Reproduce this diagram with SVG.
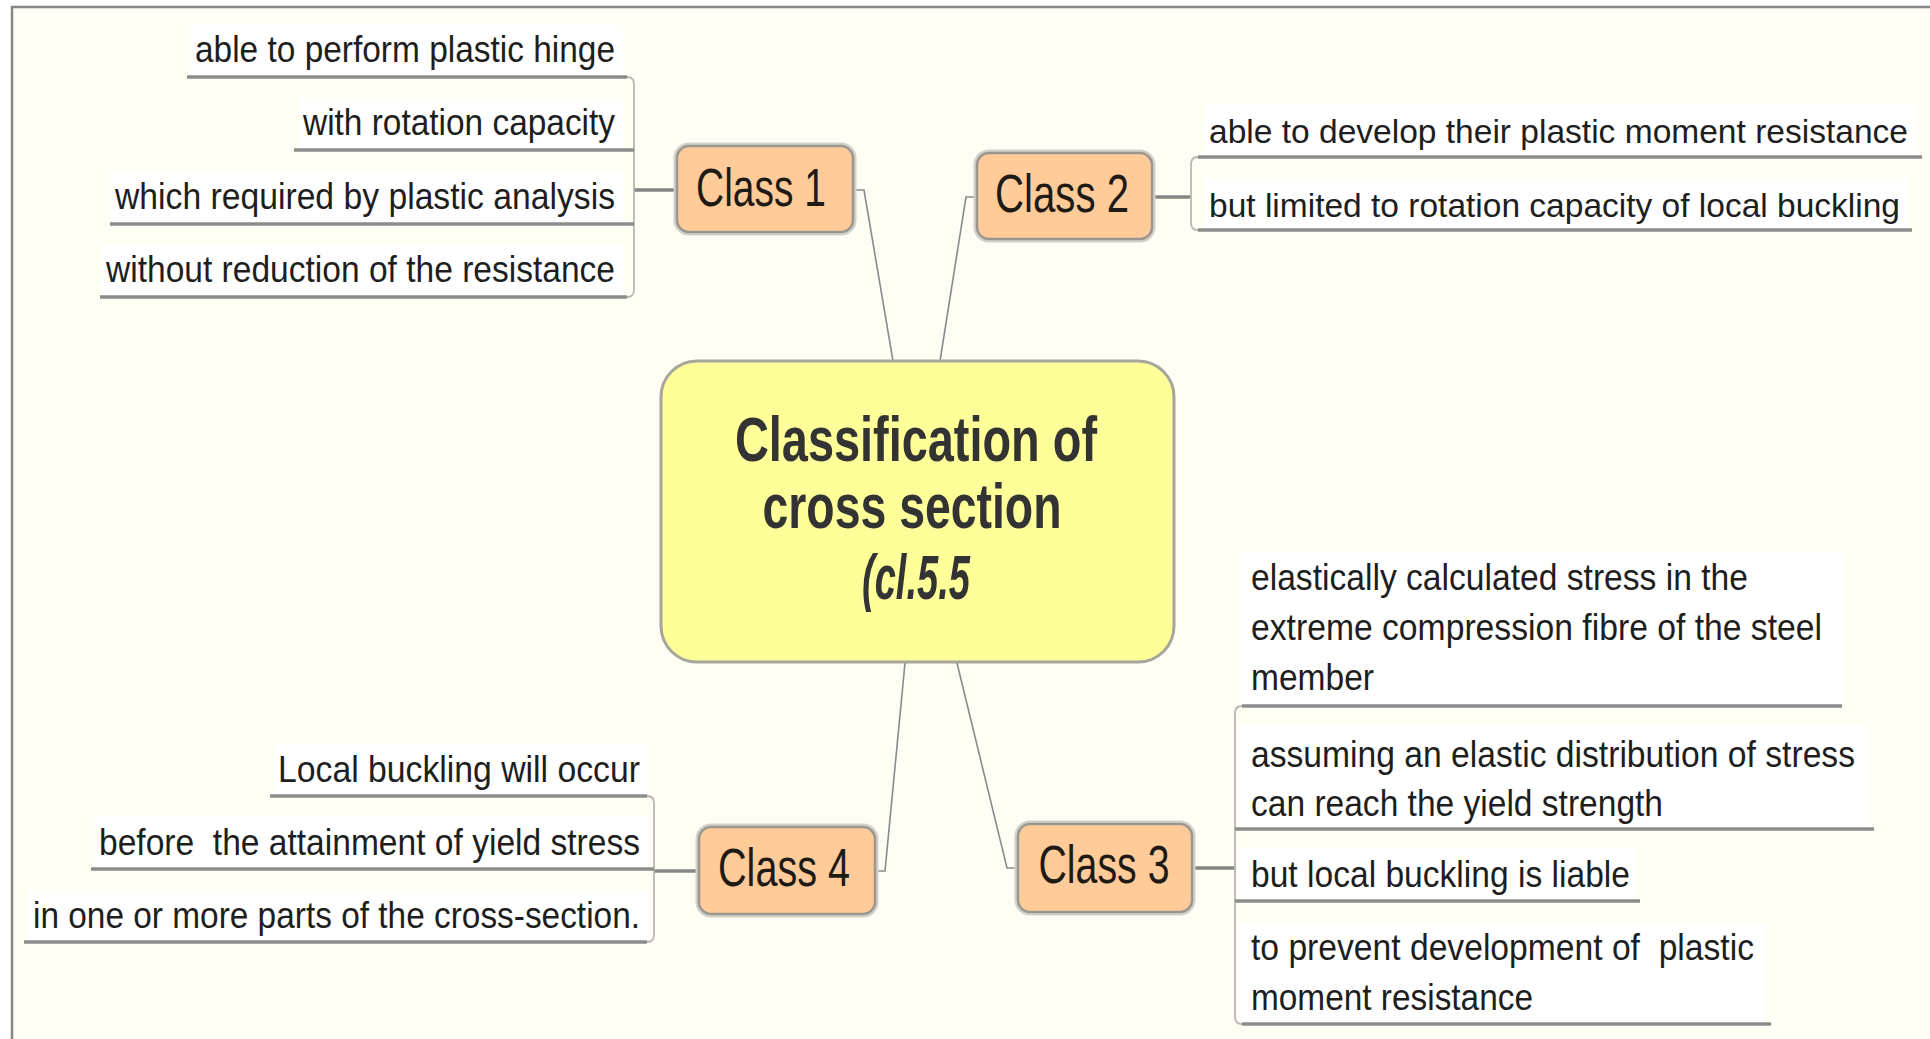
<svg xmlns="http://www.w3.org/2000/svg" width="1930" height="1039" viewBox="0 0 1930 1039">
<defs>
<style>
.leaf{font-family:"Liberation Sans",Arial,sans-serif;font-size:36px;fill:#1e1e1e}
.leaf.sm{font-size:33px}
.lbg{fill:#ffffff}
.ul{stroke:#8c8c8c;stroke-width:3.5;fill:none}
.br{stroke:#b8b8b0;stroke-width:1.8;fill:none}
.stem{stroke:#858585;stroke-width:3.5;fill:none}
.link{stroke:#8a8a8a;stroke-width:1.6;fill:none}
.cls{fill:#ffcc99;stroke:#9a9690;stroke-width:2.5}
.clsh{fill:none;stroke:#d2d0c8;stroke-width:7}
.clt{font-family:"Liberation Sans",Arial,sans-serif;font-size:54px;fill:#1e1a16}
.ttl{font-family:"Liberation Sans",Arial,sans-serif;font-size:63px;font-weight:bold;fill:#333333}
</style>
</defs>
<rect x="0" y="0" width="1930" height="1039" fill="#ffffff"/>
<rect x="12" y="7" width="1930" height="1040" fill="#fefef4" stroke="#868686" stroke-width="2.5"/>

<g id="connectors">
<path class="link" d="M853 190 H864 L893 361"/>
<path class="link" d="M977 197 H966 L940 361"/>
<path class="link" d="M905 663 L885 871 H875"/>
<path class="link" d="M957 663 L1007 868 H1018"/>
<path class="stem" d="M677 190 H634"/>
<path class="stem" d="M1152 197 H1191"/>
<path class="stem" d="M699 871 H654"/>
<path class="stem" d="M1192 868 H1235"/>
<path class="br" d="M627 77 Q634 77 634 84 L634 290 Q634 297 627 297"/>
<path class="br" d="M1198 157 Q1191 157 1191 164 L1191 223 Q1191 230 1198 230"/>
<path class="br" d="M1242 706 Q1235 706 1235 713 L1235 1017 Q1235 1024 1242 1024"/>
<path class="br" d="M647 796 Q654 796 654 803 L654 935 Q654 942 647 942"/>
</g>

<g id="center">
<rect x="661" y="361" width="513" height="301" rx="36" fill="#ffff99" stroke="#a6a69c" stroke-width="3"/>
<text class="ttl" x="916" y="461" text-anchor="middle" textLength="362" lengthAdjust="spacingAndGlyphs">Classification of</text>
<text class="ttl" x="912" y="528" text-anchor="middle" textLength="299" lengthAdjust="spacingAndGlyphs">cross section</text>
<text class="ttl" x="916" y="599" text-anchor="middle" font-style="italic" font-size="56" textLength="108" lengthAdjust="spacingAndGlyphs">(cl.5.5</text>
</g>

<g id="class1">
<rect class="clsh" x="677" y="146" width="176" height="86" rx="12"/>
<rect class="cls" x="677" y="146" width="176" height="86" rx="12"/>
<text class="clt" x="761" y="206" text-anchor="middle" textLength="130" lengthAdjust="spacingAndGlyphs">Class 1</text>
</g>
<g id="class2">
<rect class="clsh" x="977" y="153" width="175" height="86" rx="12"/>
<rect class="cls" x="977" y="153" width="175" height="86" rx="12"/>
<text class="clt" x="1062" y="212" text-anchor="middle" textLength="134" lengthAdjust="spacingAndGlyphs">Class 2</text>
</g>
<g id="class3">
<rect class="clsh" x="1018" y="824" width="174" height="88" rx="12"/>
<rect class="cls" x="1018" y="824" width="174" height="88" rx="12"/>
<text class="clt" x="1104" y="883" text-anchor="middle" textLength="131" lengthAdjust="spacingAndGlyphs">Class 3</text>
</g>
<g id="class4">
<rect class="clsh" x="699" y="827" width="176" height="87" rx="12"/>
<rect class="cls" x="699" y="827" width="176" height="87" rx="12"/>
<text class="clt" x="784" y="886" text-anchor="middle" textLength="132" lengthAdjust="spacingAndGlyphs">Class 4</text>
</g>

<g id="c1-leaf1"><rect class="lbg" x="191" y="25" width="432" height="51"/><line class="ul" x1="187" y1="77" x2="627" y2="77"/><text class="leaf" x="615" y="62" text-anchor="end" textLength="420" lengthAdjust="spacingAndGlyphs">able to perform plastic hinge</text></g>
<g id="c1-leaf2"><rect class="lbg" x="299" y="98" width="324" height="51"/><line class="ul" x1="294" y1="150" x2="634" y2="150"/><text class="leaf" x="615" y="135" text-anchor="end" textLength="312" lengthAdjust="spacingAndGlyphs">with rotation capacity</text></g>
<g id="c1-leaf3"><rect class="lbg" x="111" y="172" width="512" height="51"/><line class="ul" x1="110" y1="224" x2="634" y2="224"/><text class="leaf" x="615" y="209" text-anchor="end" textLength="500" lengthAdjust="spacingAndGlyphs">which required by plastic analysis</text></g>
<g id="c1-leaf4"><rect class="lbg" x="102" y="245" width="521" height="51"/><line class="ul" x1="100" y1="297" x2="627" y2="297"/><text class="leaf" x="615" y="282" text-anchor="end" textLength="509" lengthAdjust="spacingAndGlyphs">without reduction of the resistance</text></g>

<g id="c2-leaf1"><rect class="lbg" x="1205" y="105" width="712" height="51"/><line class="ul" x1="1198" y1="157" x2="1922" y2="157"/><text class="leaf sm" x="1209" y="143" textLength="699" lengthAdjust="spacingAndGlyphs">able to develop their plastic moment resistance</text></g>
<g id="c2-leaf2"><rect class="lbg" x="1205" y="178" width="702" height="51"/><line class="ul" x1="1198" y1="230" x2="1912" y2="230"/><text class="leaf sm" x="1209" y="217" textLength="691" lengthAdjust="spacingAndGlyphs">but limited to rotation capacity of local buckling</text></g>

<g id="c3-leaf1"><rect class="lbg" x="1240" y="553" width="602" height="152"/><line class="ul" x1="1242" y1="706" x2="1842" y2="706"/>
<text class="leaf" x="1251" y="590" textLength="497" lengthAdjust="spacingAndGlyphs">elastically calculated stress in the</text>
<text class="leaf" x="1251" y="640" textLength="571" lengthAdjust="spacingAndGlyphs">extreme compression fibre of the steel</text>
<text class="leaf" x="1251" y="690" textLength="123" lengthAdjust="spacingAndGlyphs">member</text></g>
<g id="c3-leaf2"><rect class="lbg" x="1240" y="725" width="628" height="103"/><line class="ul" x1="1235" y1="829" x2="1874" y2="829"/>
<text class="leaf" x="1251" y="767" textLength="604" lengthAdjust="spacingAndGlyphs">assuming an elastic distribution of stress</text>
<text class="leaf" x="1251" y="816" textLength="412" lengthAdjust="spacingAndGlyphs">can reach the yield strength</text></g>
<g id="c3-leaf3"><rect class="lbg" x="1240" y="848" width="394" height="52"/><line class="ul" x1="1235" y1="901" x2="1640" y2="901"/>
<text class="leaf" x="1251" y="887" textLength="379" lengthAdjust="spacingAndGlyphs">but local buckling is liable</text></g>
<g id="c3-leaf4"><rect class="lbg" x="1240" y="923" width="525" height="100"/><line class="ul" x1="1242" y1="1024" x2="1771" y2="1024"/>
<text class="leaf" x="1251" y="960" textLength="503" lengthAdjust="spacingAndGlyphs" xml:space="preserve">to prevent development of  plastic</text>
<text class="leaf" x="1251" y="1010" textLength="282" lengthAdjust="spacingAndGlyphs">moment resistance</text></g>

<g id="c4-leaf1"><rect class="lbg" x="274" y="744" width="374" height="51"/><line class="ul" x1="270" y1="796" x2="647" y2="796"/><text class="leaf" x="640" y="782" text-anchor="end" textLength="362" lengthAdjust="spacingAndGlyphs">Local buckling will occur</text></g>
<g id="c4-leaf2"><rect class="lbg" x="95" y="817" width="553" height="51"/><line class="ul" x1="91" y1="869" x2="654" y2="869"/><text class="leaf" x="640" y="855" text-anchor="end" textLength="541" lengthAdjust="spacingAndGlyphs" xml:space="preserve">before  the attainment of yield stress</text></g>
<g id="c4-leaf3"><rect class="lbg" x="28" y="890" width="620" height="51"/><line class="ul" x1="24" y1="942" x2="647" y2="942"/><text class="leaf" x="640" y="928" text-anchor="end" textLength="607" lengthAdjust="spacingAndGlyphs">in one or more parts of the cross-section.</text></g>
</svg>
